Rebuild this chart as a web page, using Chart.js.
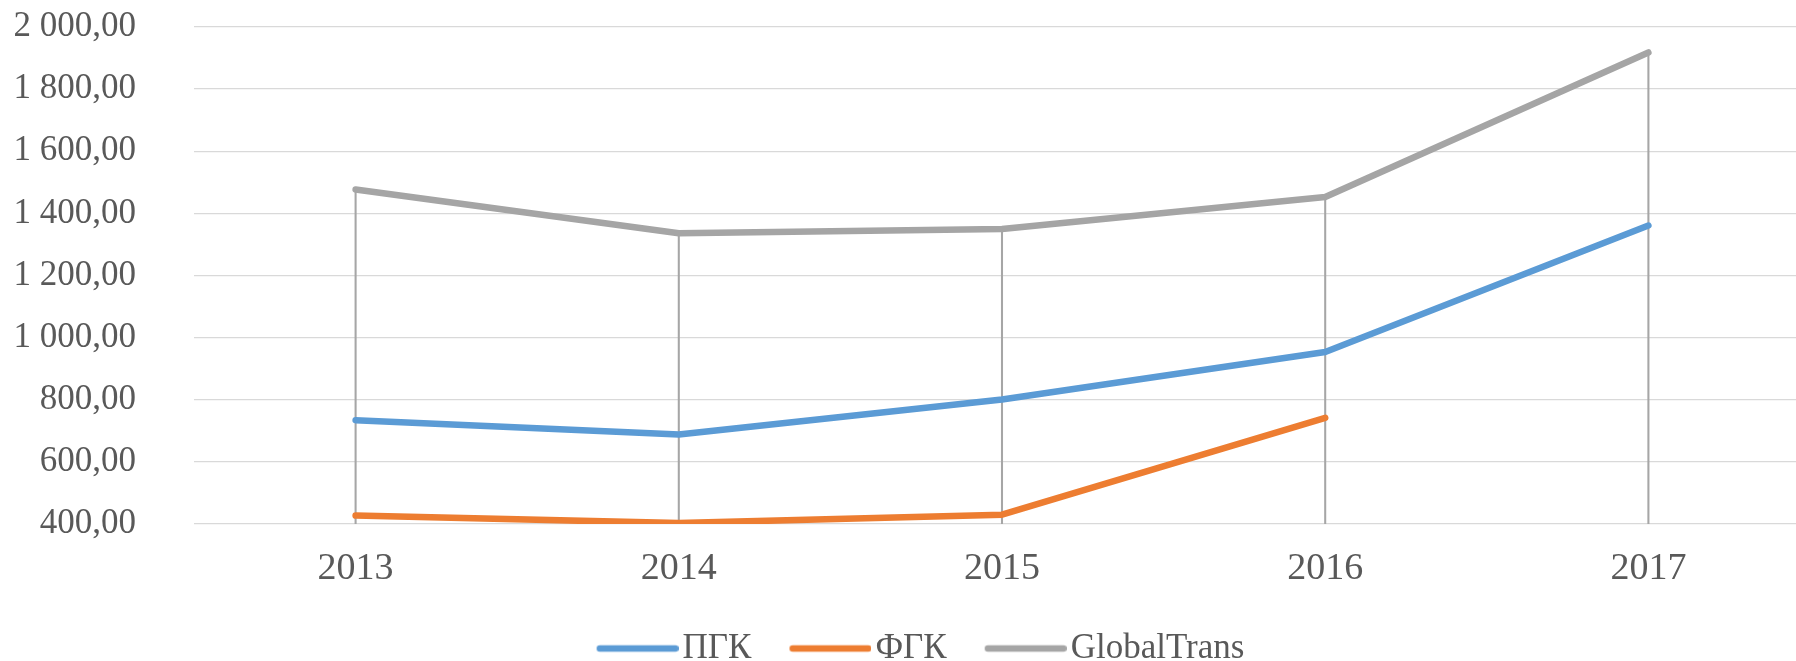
<!DOCTYPE html>
<html>
<head>
<meta charset="utf-8">
<script src="https://cdn.jsdelivr.net/npm/chart.js@4/dist/chart.umd.min.js"></script>
<style>
  html, body { margin: 0; padding: 0; background: #ffffff; overflow: hidden; }
  #wrap { width: 1810px; height: 676px; position: relative; }
</style>
</head>
<body>
<div id="wrap"><canvas id="c"></canvas></div>
<script>
const categories = ['2013', '2014', '2015', '2016', '2017'];
const seriesNames = ['ПГК', 'ФГК', 'GlobalTrans'];
const pgk = [734, 688, 801, 954, 1361];
const fgk = [427, 403, 430, 742, null];
const globalTrans = [1477, 1336, 1350, 1453, 1918];
const yTicks = [400, 600, 800, 1000, 1200, 1400, 1600, 1800, 2000];

const colors = ['#5b9bd5', '#ed7d31', '#a5a5a5'];
const FONT = '"Liberation Serif", "Times New Roman", serif';
const TEXT = '#595959';
const LINE_W = 6.5;

// drop lines: from the axis floor to the highest value in each category
const dropLines = categories.map((_, i) => {
  const vals = [pgk[i], fgk[i], globalTrans[i]].filter(v => v !== null);
  return [yTicks[0], Math.max(...vals)];
});

function fmt(v) {
  const s = Math.round(v).toString().replace(/\B(?=(\d{3})+(?!\d))/g, ' ');
  return s + ',00';
}

// legend swatch: a round-capped line sitting close to its label
const SW_BOX = 82, SW_SHIFT = 13.5;
function swatch(color) {
  const c = document.createElement('canvas');
  c.width = SW_BOX + 2 * SW_SHIFT; c.height = 10;
  const g = c.getContext('2d');
  g.strokeStyle = color; g.lineWidth = LINE_W; g.lineCap = 'round';
  g.beginPath();
  g.moveTo(2 * SW_SHIFT + LINE_W / 2, 5);
  g.lineTo(c.width - LINE_W / 2, 5);
  g.stroke();
  return c;
}
const swatches = colors.map(swatch);

const lineDs = (label, data, color) => ({
  type: 'line', label, data,
  borderColor: color, backgroundColor: color,
  borderWidth: LINE_W, borderCapStyle: 'round', borderJoinStyle: 'round',
  pointRadius: 0, pointHoverRadius: 0, tension: 0, spanGaps: false,
  order: 1
});

// shift the legend block so it is centred like the reference
const legendShift = {
  id: 'legendShift',
  afterLayout(chart) { if (chart.legend) { chart.legend.left += 17.5; } }
};

new Chart(document.getElementById('c'), {
  data: {
    labels: categories,
    datasets: [
      lineDs(seriesNames[0], pgk, colors[0]),
      lineDs(seriesNames[1], fgk, colors[1]),
      lineDs(seriesNames[2], globalTrans, colors[2]),
      {
        type: 'bar', label: 'drop', data: dropLines,
        backgroundColor: '#a6a6a6', borderWidth: 0,
        barThickness: 1.4, order: 10
      }
    ]
  },
  plugins: [legendShift],
  options: {
    responsive: true, maintainAspectRatio: false, animation: false,
    layout: { padding: { top: 27, left: 0, right: 0, bottom: 0 } },
    plugins: {
      tooltip: { enabled: false },
      legend: {
        position: 'bottom',
        labels: {
          filter: item => item.text !== 'drop',
          generateLabels(chart) {
            const items = Chart.defaults.plugins.legend.labels.generateLabels(chart);
            items.forEach(it => { if (it.datasetIndex < swatches.length) it.pointStyle = swatches[it.datasetIndex]; });
            return items;
          },
          usePointStyle: true, pointStyleWidth: SW_BOX,
          boxHeight: 6, padding: 24.5,
          color: TEXT, font: { family: FONT, size: 35 }
        }
      }
    },
    scales: {
      x: {
        type: 'category', offset: true,
        afterFit: s => { s.height = 82.5; },
        grid: { display: false, drawTicks: false },
        border: { display: false },
        ticks: { color: TEXT, font: { family: FONT, size: 38 }, padding: 22 }
      },
      y: {
        min: yTicks[0], max: yTicks[yTicks.length - 1],
        afterBuildTicks: s => { s.ticks = yTicks.map(v => ({ value: v })); },
        afterFit: s => { s.width = 194; s.paddingTop = 20; s.paddingBottom = 20; },
        grid: { color: '#d9d9d9', lineWidth: 1.3, drawTicks: false },
        border: { display: false },
        ticks: { color: TEXT, font: { family: FONT, size: 35 }, padding: 58, callback: v => fmt(v) }
      }
    }
  }
});
</script>
</body>
</html>
